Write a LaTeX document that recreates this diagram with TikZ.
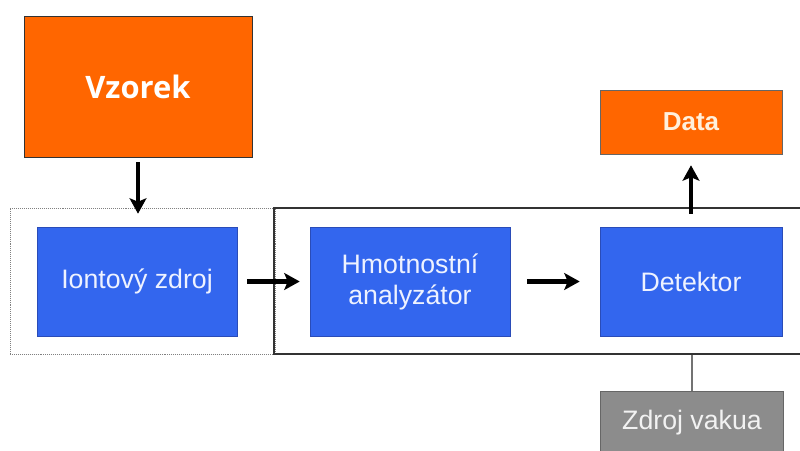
\documentclass[tikz,border=0pt]{standalone}
\usepackage{fontspec}
\setmainfont{Liberation Sans}
\newfontfamily\vzorekfont{Open Sans}
\usepackage{tikz}
\usetikzlibrary{arrows.meta}

\definecolor{oranz}{HTML}{FF6600}
\definecolor{modra}{HTML}{3366EE}
\definecolor{modraokraj}{HTML}{2A4CB8}
\definecolor{seda}{HTML}{8C8C8C}
\definecolor{krem}{HTML}{FFF0DC}
\definecolor{svetla}{HTML}{EEF2FF}

\begin{document}
\begin{tikzpicture}[
  blok/.style={draw=modraokraj,fill=modra,text=svetla,minimum width=5cm,minimum height=2.725cm,align=center,font=\fontsize{19}{22}\selectfont},
  sipka/.style={-{Stealth[length=11pt,width=12pt,inset=2.5pt]},line width=3.3pt,black}]
%rozmer obrazku
\useasboundingbox (0,0) rectangle (20,11.25);

%ramecky
\node [draw=gray,densely dotted,thin,minimum width=6.625cm,minimum height=3.65cm] (zdrojram) at (3.5625,4.225) {};
\node [draw=black!80,line width=0.9pt,minimum width=13.65cm,minimum height=3.65cm] (ramec) at (13.675,4.225) {};

%vzorek a data
\node [draw=black!80,fill=oranz,text=white,minimum width=5.7cm,minimum height=3.525cm,font=\vzorekfont\bfseries\fontsize{22}{26}\selectfont] (vzorek) at (3.45,9.0875) {Vzorek};
\node [draw=black!60,fill=oranz,text=krem,minimum width=4.55cm,minimum height=1.6cm,font=\bfseries\fontsize{18.5}{22}\selectfont] (data) at (17.275,8.2) {Data};

%bloky spektrometru
\node [blok] (iontovy) at (3.425,4.2125) {Iontový zdroj};
\node [blok] (analyzator) at (10.25,4.2125) {Hmotnostní\\analyzátor};
\node [blok,minimum width=4.55cm] (detektor) at (17.275,4.2125) {Detektor};

%zdroj vakua
\node [draw=black!60,fill=seda,text=white!95!black,minimum width=4.575cm,minimum height=1.6cm,font=\fontsize{19}{22}\selectfont] (vakuum) at (17.3,0.675) {Zdroj vakua};

%sipky
\draw [sipka,shorten <=0.125cm,shorten >=0.325cm] (vzorek.south) -- (vzorek.south |- iontovy.north);
\draw [sipka,shorten <=0.25cm,shorten >=0.25cm] (iontovy.east) -- (analyzator.west);
\draw [sipka,shorten <=0.425cm,shorten >=0.5cm] (analyzator.east) -- (detektor.west);
\draw [sipka,shorten <=0.325cm,shorten >=0.275cm] (detektor.north) -- (data.south);

%cara k vakuu
\draw [black!55,line width=1pt] (vakuum.north) -- (vakuum.north |- ramec.south);
\end{tikzpicture}
\end{document}
